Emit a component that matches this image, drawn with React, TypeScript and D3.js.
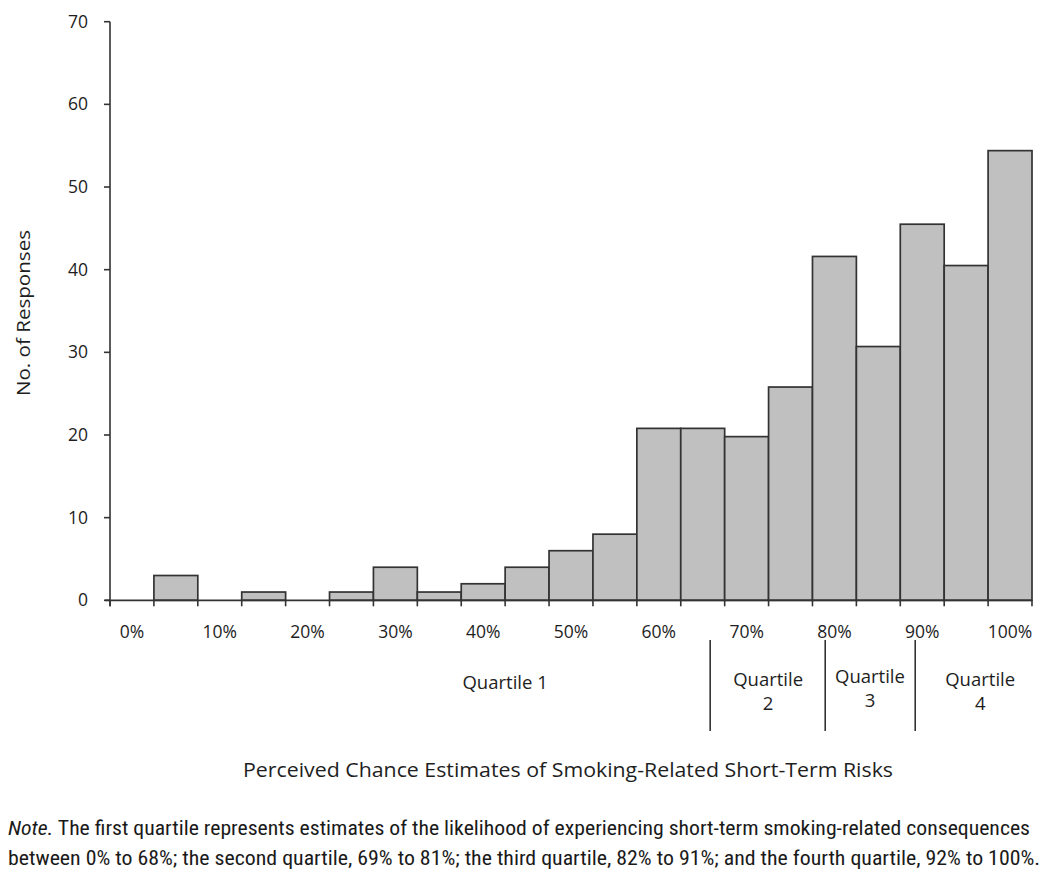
import React from "react";
import * as d3 from "d3";

const binLabels = ["0%","5%","10%","15%","20%","25%","30%","35%","40%","45%","50%","55%","60%","65%","70%","75%","80%","85%","90%","95%","100%"];
const counts = [0,3,0,1,0,1,4,1,2,4,6,8,20.8,20.8,19.8,25.8,41.6,30.7,45.5,40.5,54.4];
const yTicks = [0,10,20,30,40,50,60,70];
const quartileDividers = [13.67, 16.29, 18.34];
const quartileLabels = [
  { lines: ["Quartile 1"], pos: 9.0, dy: 0 },
  { lines: ["Quartile", "2"], pos: 14.99, dy: -3 },
  { lines: ["Quartile", "3"], pos: 17.31, dy: -6 },
  { lines: ["Quartile", "4"], pos: 19.82, dy: -3 },
];
const xTitle = "Perceived Chance Estimates of Smoking-Related Short-Term Risks";
const yTitle = "No. of Responses";

export default function App() {
  const x = d3.scaleLinear().domain([0, binLabels.length]).range([110, 1032]);
  const y = d3.scaleLinear().domain([0, 70]).range([600.3, 21.7]);
  const font = "'Open Sans', 'Noto Sans', sans-serif";
  const narrow = "'Liberation Sans Narrow', 'Roboto Condensed', 'Arial Narrow', 'Liberation Sans', sans-serif";
  const ink = "#1e1e1e";
  const axisC = "#333";
  return (
    <svg width={1050} height={878} style={{ position: "absolute", left: 0, top: 0, background: "#fff" }}>
      {counts.map((c, i) =>
        c > 0 ? (
          <rect key={i} x={x(i)} y={y(c)} width={x(i + 1) - x(i)} height={y(0) - y(c)}
            fill="#c0c0c0" stroke={axisC} strokeWidth={1.7} />
        ) : null
      )}
      <line x1={x(0)} x2={x(0)} y1={y(70)} y2={y(0) + 6} stroke={axisC} strokeWidth={1.6} />
      {yTicks.map((t) => (
        <g key={t}>
          <line x1={x(0) - 6} x2={x(0)} y1={y(t)} y2={y(t)} stroke={axisC} strokeWidth={1.6} />
          <text x={88} y={y(t)} dy="0.35em" textAnchor="end" fontFamily={font} fontSize={17.5} fill={ink}>{t}</text>
        </g>
      ))}
      <line x1={x(0) - 5} x2={x(binLabels.length)} y1={y(0)} y2={y(0)} stroke={axisC} strokeWidth={1.8} />
      {d3.range(binLabels.length + 1).map((i) => (
        <line key={i} x1={x(i)} x2={x(i)} y1={y(0)} y2={y(0) + 6} stroke={axisC} strokeWidth={1.6} />
      ))}
      {binLabels.map((l, i) =>
        i % 2 === 0 ? (
          <text key={l} x={(x(i) + x(i + 1)) / 2} y={638} textAnchor="middle" fontFamily={font} fontSize={17.5} fill={ink}>{l}</text>
        ) : null
      )}
      {quartileDividers.map((q, i) => (
        <line key={i} x1={x(q)} x2={x(q)} y1={640} y2={731} stroke={axisC} strokeWidth={1.6} />
      ))}
      {quartileLabels.map((q, i) => (
        <text key={i} x={x(q.pos)} y={689 + q.dy} textAnchor="middle" fontFamily={font} fontSize={18.5} fill={ink}>
          {q.lines.map((ln, j) => (
            <tspan key={j} x={x(q.pos)} dy={j === 0 ? 0 : 24}>{ln}</tspan>
          ))}
        </text>
      ))}
      <text x={568} y={777} textAnchor="middle" fontFamily={font} fontSize={20} fill={ink}
        textLength={650} lengthAdjust="spacingAndGlyphs">{xTitle}</text>
      <text transform={`translate(30, 313) rotate(-90)`} textAnchor="middle" fontFamily={font} fontSize={19} fill={ink}
        textLength={166} lengthAdjust="spacingAndGlyphs">{yTitle}</text>
      <text x={8} y={835} fontFamily={narrow} fontSize={20} fill="#1a1a1a" textLength={1022} lengthAdjust="spacingAndGlyphs">
        <tspan fontStyle="italic">Note.</tspan> The first quartile represents estimates of the likelihood of experiencing short-term smoking-related consequences
      </text>
      <text x={8} y={865} fontFamily={narrow} fontSize={20} fill="#1a1a1a" textLength={1032} lengthAdjust="spacingAndGlyphs">
        between 0% to 68%; the second quartile, 69% to 81%; the third quartile, 82% to 91%; and the fourth quartile, 92% to 100%.
      </text>
    </svg>
  );
}
